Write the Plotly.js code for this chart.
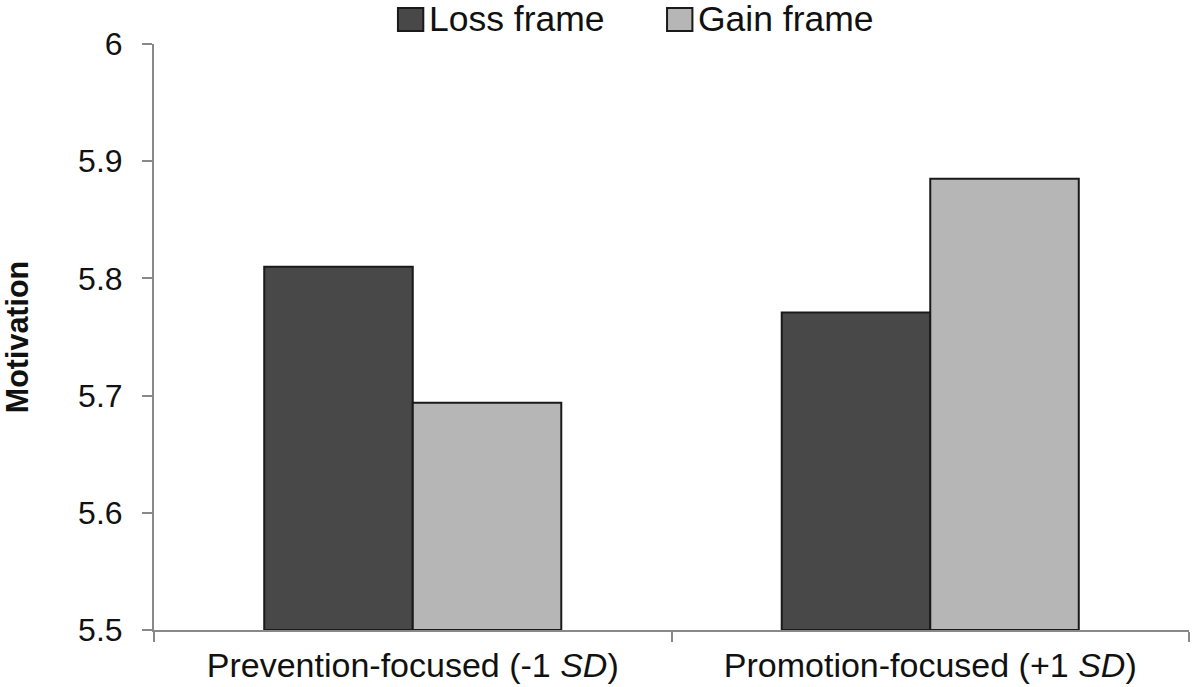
<!DOCTYPE html>
<html>
<head>
<meta charset="utf-8">
<script src="https://cdn.plot.ly/plotly-3.0.1.min.js"></script>
<style>html,body{margin:0;padding:0;background:#fff;}#chart{width:1193px;height:687px;}</style>
</head>
<body>
<div id="chart"></div>
<script>
var categories = ["Prevention-focused (-1 <i>SD</i>)", "Promotion-focused (+1 <i>SD</i>)"];
var seriesNames = ["Loss frame", "Gain frame"];
var lossValues = [5.810, 5.771];
var gainValues = [5.694, 5.885];
var yTickValues = [5.5, 5.6, 5.7, 5.8, 5.9, 6];
var yTickLabels = ["5.5", "5.6", "5.7", "5.8", "5.9", "6"];
var seriesColors = ["#484848", "#b6b6b6"];
var yBase = 5.5;

var FONT = "Liberation Sans, Arial, sans-serif";

var traces = [
  {type: "bar", name: seriesNames[0], x: categories,
   y: lossValues.map(function(v){return v - yBase;}), base: yBase,
   marker: {color: seriesColors[0], line: {color: "#1a1a1a", width: 2}}, hoverinfo: "none"},
  {type: "bar", name: seriesNames[1], x: categories,
   y: gainValues.map(function(v){return v - yBase;}), base: yBase,
   marker: {color: seriesColors[1], line: {color: "#1a1a1a", width: 2}}, hoverinfo: "none"}
];

// custom legend (large square swatches)
var legendShapes = [];
var legendAnnotations = [];
var legendX = [0.2357, 0.4957];
for (var i = 0; i < seriesNames.length; i++) {
  legendShapes.push({type: "rect", xref: "paper", yref: "paper",
    x0: legendX[i], x1: legendX[i] + 0.0245, y0: 1.0222, y1: 1.0614,
    fillcolor: seriesColors[i], line: {color: "#1a1a1a", width: 2}});
  legendAnnotations.push({xref: "paper", yref: "paper", x: legendX[i] + 0.028, y: 1.043,
    xanchor: "left", yanchor: "middle", showarrow: false, text: seriesNames[i],
    font: {family: FONT, size: 35.5, color: "#111"}});
}

var layout = {
  width: 1193, height: 687,
  margin: {l: 154, r: 4, t: 44, b: 57},
  paper_bgcolor: "#fff", plot_bgcolor: "#fff",
  showlegend: false,
  barmode: "group", bargap: 0.426, bargroupgap: 0,
  font: {family: FONT, color: "#111"},
  xaxis: {
    showline: true, linecolor: "#888", linewidth: 2,
    ticks: "outside", tickson: "boundaries", ticklen: 10, tickwidth: 2, tickcolor: "#888",
    tickfont: {family: FONT, size: 34, color: "#111"},
    ticklabelstandoff: 4,
    showgrid: false, zeroline: false, fixedrange: true, automargin: false
  },
  yaxis: {
    range: [5.5, 6], tickvals: yTickValues, ticktext: yTickLabels,
    showline: true, linecolor: "#888", linewidth: 2,
    ticks: "outside", ticklen: 10, tickwidth: 2, tickcolor: "#888",
    tickfont: {family: FONT, size: 32, color: "#111"},
    ticklabelstandoff: 13,
    showgrid: false, zeroline: false, fixedrange: true,
    title: {text: "<b>Motivation</b>", font: {family: FONT, size: 30.5, color: "#111"}, standoff: 40},
    automargin: false
  },
  shapes: legendShapes,
  annotations: legendAnnotations
};

Plotly.newPlot("chart", traces, layout, {displayModeBar: false, staticPlot: true});
</script>
</body>
</html>
